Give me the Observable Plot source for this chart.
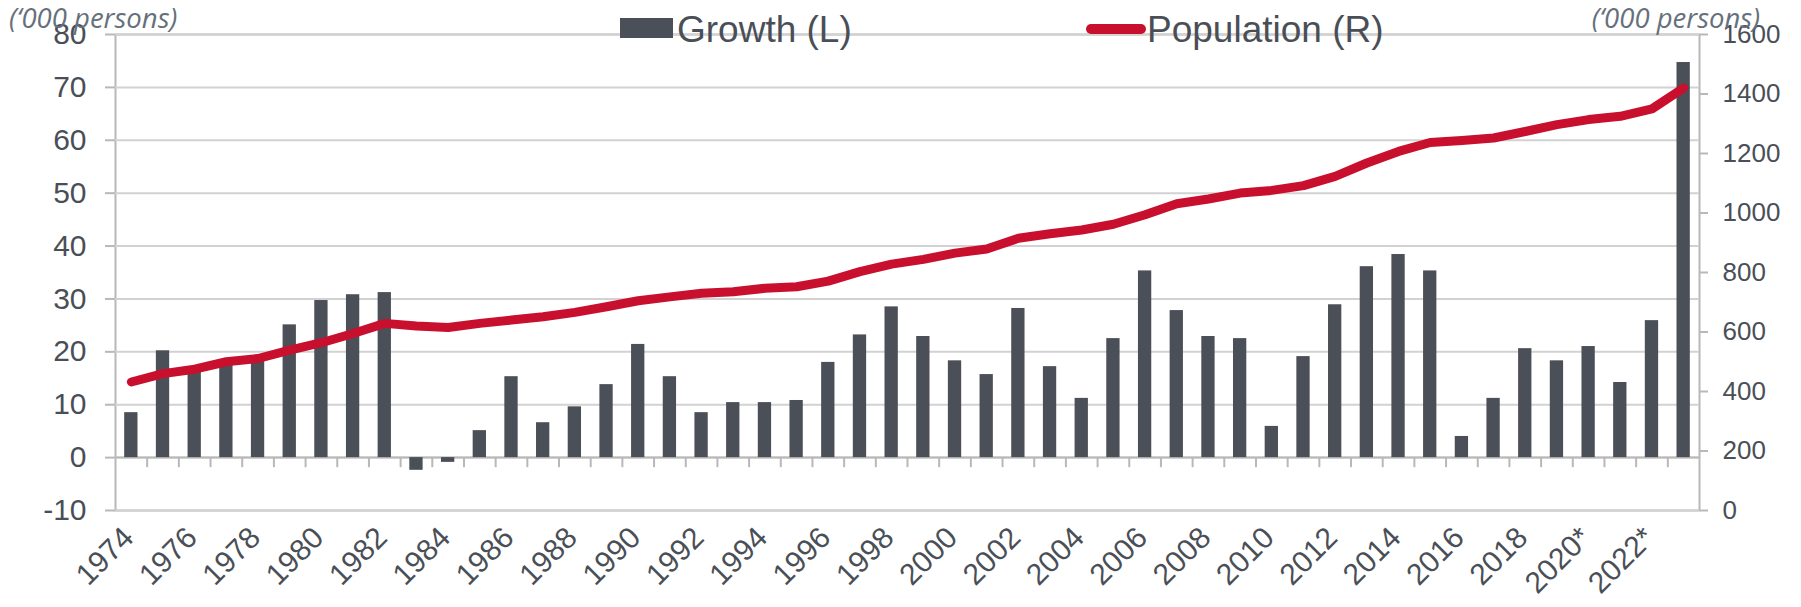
<!DOCTYPE html>
<html><head><meta charset="utf-8">
<script src="https://cdn.jsdelivr.net/npm/d3@7"></script>
<script src="https://cdn.jsdelivr.net/npm/@observablehq/plot@0.6"></script>
<style>
html,body{margin:0;padding:0;background:#fff;}
#wrap{position:relative;width:1801px;height:607px;overflow:hidden;font-family:"Liberation Sans",Arial,sans-serif;}
#chart svg{position:absolute;left:0;top:0;}
.unit{position:absolute;top:4px;font-family:"Open Sans",sans-serif;font-style:italic;font-size:27.5px;line-height:28px;color:#66707c;white-space:nowrap;z-index:2;}
.legtext{position:absolute;top:11px;font-size:37px;line-height:37px;color:#4a4f57;white-space:nowrap;z-index:2;}
.sq{position:absolute;left:620px;top:18px;width:53px;height:20px;background:#4b4f57;z-index:2;}
.ln{position:absolute;left:1086px;top:24px;width:60px;height:10px;border-radius:5px;background:#c8102e;z-index:2;}
</style></head>
<body>
<div id="wrap">
  <div id="chart"></div>
  <div class="unit" style="left:9px;">(‘000 persons)</div>
  <div class="unit" style="right:41px;">(‘000 persons)</div>
  <div class="sq"></div><div class="legtext" style="left:677px;">Growth (L)</div>
  <div class="ln"></div><div class="legtext" style="left:1147px;">Population (R)</div>
</div>
<script>
const years = ["1974","1975","1976","1977","1978","1979","1980","1981","1982","1983",
  "1984","1985","1986","1987","1988","1989","1990","1991","1992","1993",
  "1994","1995","1996","1997","1998","1999","2000","2001","2002","2003",
  "2004","2005","2006","2007","2008","2009","2010","2011","2012","2013",
  "2014","2015","2016","2017","2018","2019","2020","2021","2022","2023"];
const growth = [8.5,20.2,16.3,17.5,18.3,25.1,29.7,30.8,31.2,-2.4,
  -0.9,5.1,15.3,6.6,9.6,13.8,21.4,15.3,8.5,10.4,
  10.4,10.8,18.0,23.2,28.5,22.9,18.3,15.7,28.2,17.2,
  11.2,22.5,35.3,27.8,22.9,22.5,5.9,19.1,28.9,36.1,
  38.4,35.3,4.0,11.2,20.6,18.3,21.0,14.2,25.9,74.7];
const population = [432,460,475,500,511,539,564,595,629,620,
  615,629,640,651,666,685,705,718,730,735,
  747,752,771,803,828,844,865,879,915,930,
  943,962,994,1031,1047,1067,1076,1092,1123,1168,
  1207,1237,1244,1252,1274,1297,1314,1325,1350,1420];
const labelYears = ["1974","1976","1978","1980","1982","1984","1986","1988","1990","1992","1994","1996","1998","2000","2002","2004","2006","2008","2010","2012","2014","2016","2018","2020","2022"];
const labelText = ["1974","1976","1978","1980","1982","1984","1986","1988","1990","1992","1994","1996","1998","2000","2002","2004","2006","2008","2010","2012","2014","2016","2018","2020*","2022*"];
const leftTicks = [-10,0,10,20,30,40,50,60,70,80];
const rightTicks = [0,200,400,600,800,1000,1200,1400,1600];

const W = 1801, H = 607, ML = 115, MR = 102, MT = 34, MB = 97;
const step = (W - ML - MR) / years.length;
const toLeft = d3.scaleLinear([0, 1600], [-10, 80]);
const data = years.map((y, i) => ({year: y, growth: growth[i], popL: toLeft(population[i])}));
const axisGray = "#b8b8b8", textCol = "#4a4f57";

const chart = Plot.plot({
  width: W, height: H, marginLeft: ML, marginRight: MR, marginTop: MT, marginBottom: MB,
  style: {fontFamily: "'Liberation Sans', Arial, sans-serif", background: "transparent", overflow: "visible"},
  x: {type: "band", domain: years, paddingInner: 0.58, paddingOuter: 0.29, axis: null},
  y: {domain: [-10, 80], axis: null},
  marks: [
    Plot.frame({stroke: axisGray, strokeWidth: 2}),
    Plot.gridY({ticks: leftTicks, stroke: "#d2d2d2", strokeOpacity: 1, strokeWidth: 2}),
    Plot.ruleY([0], {stroke: axisGray, strokeWidth: 2}),
    Plot.ruleX(years.slice(1), {x: d => d, y1: 0, y2: -1.9, stroke: axisGray, strokeWidth: 2, dx: -step / 2}),
    Plot.barY(data, {x: "year", y: "growth", fill: "#4b4f57"}),
    Plot.line(data, {x: "year", y: "popL", stroke: "#c8102e", strokeWidth: 9, strokeLinecap: "round", strokeLinejoin: "round"}),
    Plot.axisY({ticks: leftTicks, tickFormat: d => String(d), anchor: "left", tickSize: 10, tickPadding: 19, fontSize: 30, stroke: axisGray, strokeWidth: 2, fill: textCol}),
    Plot.axisY({ticks: rightTicks.map(toLeft), tickFormat: d => String(Math.round(toLeft.invert(d))), anchor: "right", tickSize: 8, tickPadding: 15, fontSize: 26, stroke: axisGray, strokeWidth: 2, fill: textCol}),
    Plot.text(labelYears, {x: d => d, frameAnchor: "bottom", text: labelText, rotate: -45, textAnchor: "end", dx: 4, dy: 29, fontSize: 30, fill: textCol})
  ]
});
document.getElementById("chart").appendChild(chart);
</script>
</body></html>
